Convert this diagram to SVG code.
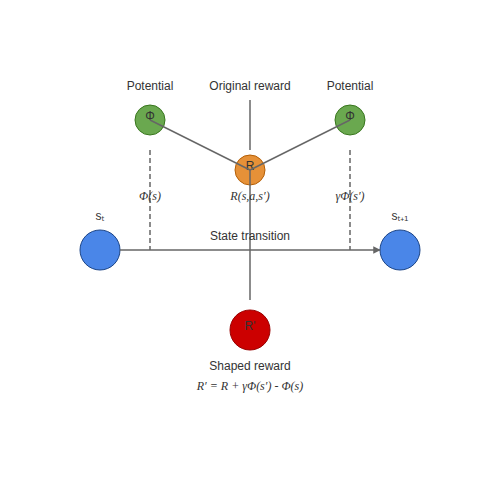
<svg xmlns="http://www.w3.org/2000/svg" width="500" height="500" viewBox="0 0 500 500">
<defs>
<marker id="arr" viewBox="0 0 10 10" refX="9" refY="5" markerWidth="5" markerHeight="5" orient="auto"><path d="M0,0 L10,5 L0,10 z" fill="#666"/></marker>
<style>
.t{font-family:"Liberation Sans","Open Sans",sans-serif;font-size:12px;fill:#333;text-anchor:middle}
.m{font-family:"Liberation Serif","DejaVu Serif",serif;font-style:italic;font-size:12px;fill:#333;text-anchor:middle}
.ln{stroke:#666;stroke-width:1.5;fill:none}
.d{stroke:#666;stroke-width:1.5;stroke-dasharray:5,3;fill:none}
</style>
</defs>
<rect width="500" height="500" fill="#fff"/>
<g id="phi1">
<circle cx="150" cy="120" r="15" fill="#6aa84f" stroke="#38761d" stroke-width="1"/>
<text class="t" x="150" y="120">Φ</text>
<text class="t" x="150" y="90">Potential</text>
</g>
<g id="phi2">
<circle cx="350" cy="120" r="15" fill="#6aa84f" stroke="#38761d" stroke-width="1"/>
<text class="t" x="350" y="120">Φ</text>
<text class="t" x="350" y="90">Potential</text>
</g>
<g id="orig">
<text class="t" x="250" y="90">Original reward</text>
</g>
<g id="R">
<circle cx="250" cy="170" r="15" fill="#e69138" stroke="#b45f06" stroke-width="1"/>
<text class="t" x="250" y="170">R</text>
</g>
<g id="s0">
<circle cx="100" cy="250" r="20" fill="#4a86e8" stroke="#1c4587" stroke-width="1"/>
<text class="t" x="100" y="220">sₜ</text>
</g>
<g id="s1">
<circle cx="400" cy="250" r="20" fill="#4a86e8" stroke="#1c4587" stroke-width="1"/>
<text class="t" x="400" y="220">sₜ₊₁</text>
</g>
<g id="Rp">
<circle cx="250" cy="330" r="20" fill="#cc0000" stroke="#990000" stroke-width="1"/>
<text class="t" x="250" y="330">R'</text>
<text class="t" x="250" y="370">Shaped reward</text>
<text class="m" x="250" y="390">R′ = R + γΦ(s′) - Φ(s)</text>
</g>
<g id="connectors">
<line class="ln" x1="250" y1="100" x2="250" y2="150"/>
<line class="ln" x1="150" y1="120" x2="250" y2="170"/>
<line class="ln" x1="350" y1="120" x2="250" y2="170"/>
<line class="ln" x1="250" y1="170" x2="250" y2="300"/>
<line class="ln" x1="120" y1="250" x2="380" y2="250" marker-end="url(#arr)"/>
<line class="d" x1="150" y1="150" x2="150" y2="250"/>
<line class="d" x1="350" y1="150" x2="350" y2="250"/>
</g>
<g id="labels">
<text class="m" x="150" y="200">Φ(s)</text>
<text class="m" x="250" y="200">R(s,a,s′)</text>
<text class="m" x="350" y="200">γΦ(s′)</text>
<text class="t" x="250" y="240">State transition</text>
</g>
</svg>
